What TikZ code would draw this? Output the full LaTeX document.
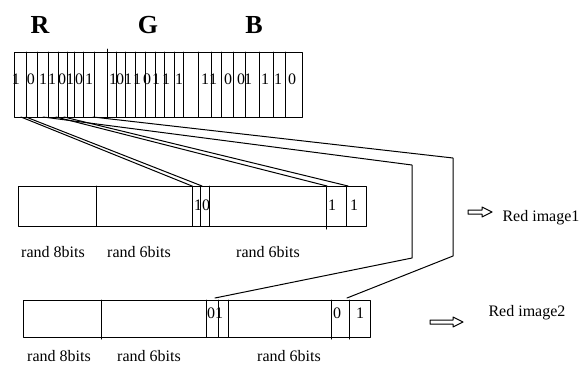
\documentclass[tikz,border=0pt]{standalone}
\usepackage{fontspec}
\setmainfont{Liberation Serif}
\begin{document}
\begin{tikzpicture}[x=1pt,y=-1pt,font=\fontsize{16}{18}\selectfont,line width=1pt,line join=round,line cap=round]
	\useasboundingbox (0,0) rectangle (587,365);
	% channel titles
	\foreach \i/\j in {40/R,148/G,254/B}
	\node[font=\fontsize{26}{28}\selectfont\bfseries] (t\j) at (\i,25) {\j};
	% pixel bits
	\draw (14,52) rectangle (302,117);
	\foreach \i in {26,37,48,58,67,74,83,94,116,125,135,145,155,164,174,183,198,211,221,233,245,259,273,285}
	\draw (\i,52)--(\i,117);
	\draw (107,49)--(107,117);
	\foreach \i/\j [count=\k] in {16/1,31/0,43/1,52/1,62/0,70/1,79/0,89/1,
		113/1,120/0,128/1,137/1,147/0,156/1,166/1,179/1,
		205/1,213/1,228/0,241/0,248/1,265/1,278/1,292/0}
	\node[inner sep=0pt] (b\k) at (\i,79) {\j};
	% red image 1
	\draw (18,186) rectangle (366,226);
	\foreach \i in {96,192,200,209,346}
	\draw (\i,186)--(\i,226);
	\draw (326,186)--(326,229);
	\node (xa) at (202,205) {10};
	\node (xb) at (332,205) {1};
	\node (xc) at (354,205) {1};
	\foreach \i/\j [count=\k] in {53/8,139/6,268/6}
	\node (la\k) at (\i,252) {rand \j bits};
	% red image 2
	\draw (23,300) rectangle (370,337);
	\foreach \i in {206,218,228}
	\draw (\i,300)--(\i,337);
	\foreach \i in {101,331,349}
	\draw (\i,300)--(\i,339);
	\node (ya) at (215,313) {01};
	\node (yb) at (337,313) {0};
	\node (yc) at (360,313) {1};
	\foreach \i/\j [count=\k] in {59/8,149/6,289/6}
	\node (lb\k) at (\i,356) {rand \j bits};
	% bit lines
	\coordinate (s1) at (21,117);  \coordinate (e1) at (192,186);
	\coordinate (s2) at (26,117);  \coordinate (e2) at (202,186);
	\coordinate (s3) at (56,117);  \coordinate (e3) at (327,186);
	\coordinate (s4) at (64,117);  \coordinate (e4) at (348,186);
	\coordinate (s5) at (43,117);  \coordinate (e5) at (215,298);
	\coordinate (s6) at (93,117);  \coordinate (e6) at (347,298);
	\coordinate (k5) at (412,165); \coordinate (m5) at (412,258);
	\coordinate (k6) at (453,158); \coordinate (m6) at (453,256);
	\foreach \i in {1,...,4}
	\draw (s\i)--(e\i);
	\foreach \i in {5,6}
	\draw (s\i)--(k\i)--(m\i)--(e\i);
	% outputs
	\foreach \i/\j/\l in {468/212/24,430/322/33}
	\draw (\i,\j-2)--(\i+\l-10,\j-2)--(\i+\l-10,\j-5)--(\i+\l,\j)--(\i+\l-10,\j+5)--(\i+\l-10,\j+2)--(\i,\j+2)--cycle;
	\node (o1) at (541,218) {Red image1};
	\node (o2) at (527,313) {Red image2};
\end{tikzpicture}
\end{document}
